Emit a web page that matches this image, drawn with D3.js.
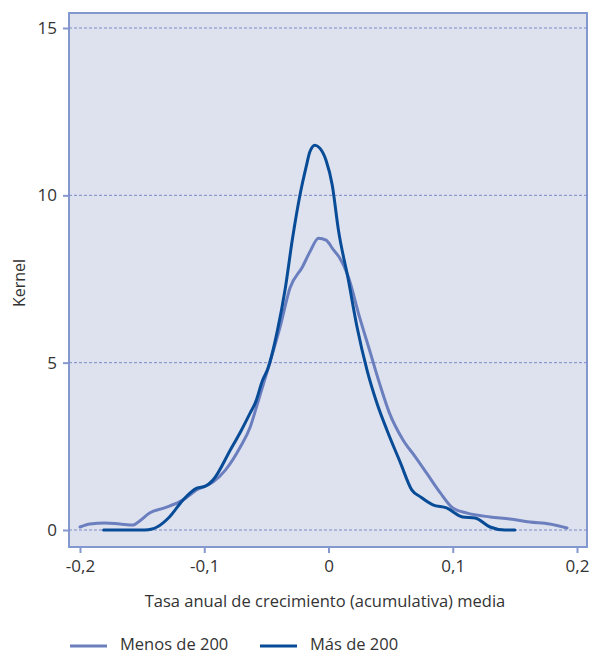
<!DOCTYPE html>
<html>
<head>
<meta charset="utf-8">
<script src="https://cdn.jsdelivr.net/npm/d3@7"></script>
<style>
  body { margin: 0; background: #fff; }
  text { font-family: "Open Sans", "Noto Sans", sans-serif; fill: #333; }
</style>
</head>
<body>
<svg id="chart" width="592" height="656"></svg>
<script>
// kernel density, firms with fewer than 200 employees
var menosX = [-0.2, -0.192, -0.180, -0.168, -0.157, -0.152, -0.144, -0.132, -0.117, -0.106, -0.093, -0.083, -0.071, -0.063, -0.058, -0.049, -0.039, -0.031, -0.021, -0.015, -0.008, -0.002, 0.004, 0.009, 0.016, 0.025, 0.033, 0.041, 0.049, 0.060, 0.070, 0.079, 0.090, 0.100, 0.111, 0.130, 0.146, 0.162, 0.178, 0.192];
var menosY = [0.09, 0.18, 0.21, 0.18, 0.15, 0.27, 0.51, 0.66, 0.90, 1.20, 1.43, 1.79, 2.48, 3.08, 3.67, 4.78, 6.06, 7.23, 7.86, 8.31, 8.72, 8.66, 8.37, 8.13, 7.56, 6.36, 5.38, 4.39, 3.50, 2.69, 2.18, 1.70, 1.11, 0.66, 0.51, 0.39, 0.33, 0.24, 0.18, 0.06];

// firms with more than 200 employees
var masX = [-0.181, -0.148, -0.142, -0.138, -0.128, -0.117, -0.106, -0.099, -0.093, -0.079, -0.070, -0.063, -0.059, -0.053, -0.049, -0.041, -0.035, -0.029, -0.023, -0.018, -0.015, -0.011, -0.007, -0.002, 0.003, 0.008, 0.016, 0.023, 0.031, 0.039, 0.047, 0.058, 0.067, 0.074, 0.084, 0.095, 0.108, 0.118, 0.130, 0.142, 0.150];
var masY = [0, 0, 0.03, 0.09, 0.39, 0.90, 1.25, 1.31, 1.49, 2.39, 2.99, 3.50, 3.79, 4.48, 4.80, 5.98, 7.17, 8.70, 10.0, 10.85, 11.30, 11.50, 11.41, 11.05, 10.31, 8.96, 7.47, 6.06, 4.78, 3.79, 2.99, 2.00, 1.20, 0.99, 0.75, 0.66, 0.39, 0.36, 0.09, 0, 0];

var xTicks = [-0.2, -0.1, 0, 0.1, 0.2];
var yTicks = [0, 5, 10, 15];
var seriesNames = ["Menos de 200", "Más de 200"];

var svg = d3.select("#chart"),
	box = {left: 69, top: 13, right: 587, bottom: 547},
	lightBlue = "#6b7fbf",
	darkBlue = "#084b97",
	frame = "#8597cf";

var x = d3.scaleLinear().domain([-0.2, 0.2]).range([80, 577]);
var y = d3.scaleLinear().domain([0, 15]).range([530, 28]);

// decimal comma and plain hyphen, as in the original
var fmt = function(d) { return String(d).replace(".", ","); };

// plot background
svg.append("rect")
	.attr("x", box.left).attr("y", box.top)
	.attr("width", box.right - box.left).attr("height", box.bottom - box.top)
	.attr("fill", "#dee2ef")
	.attr("stroke", frame).attr("stroke-width", 2);

// gridlines
svg.selectAll(".grid").data(yTicks).enter().append("line")
	.attr("x1", box.left).attr("x2", box.right)
	.attr("y1", d => y(d)).attr("y2", d => y(d))
	.attr("stroke", "#7a8bc6").attr("stroke-width", 1)
	.attr("stroke-dasharray", "3,2");

// y axis
var yAxis = svg.append("g")
	.attr("transform", "translate(" + box.left + ",0)")
	.call(d3.axisLeft(y).tickValues(yTicks).tickSize(6).tickPadding(6).tickFormat(fmt));
yAxis.select(".domain").remove();
yAxis.selectAll(".tick line").attr("stroke", frame).attr("stroke-width", 2);
yAxis.selectAll(".tick text").attr("font-size", 17).attr("fill", "#333")
	.attr("font-family", "'Open Sans', sans-serif");

// x axis
var xAxis = svg.append("g")
	.attr("transform", "translate(0," + box.bottom + ")")
	.call(d3.axisBottom(x).tickValues(xTicks).tickSize(6).tickPadding(7).tickFormat(fmt));
xAxis.select(".domain").remove();
xAxis.selectAll(".tick line").attr("stroke", frame).attr("stroke-width", 2);
xAxis.selectAll(".tick text").attr("font-size", 17).attr("fill", "#333")
	.attr("font-family", "'Open Sans', sans-serif");

// axis titles
svg.append("text")
	.attr("x", 325).attr("y", 607)
	.attr("text-anchor", "middle").attr("font-size", 16.5)
	.text("Tasa anual de crecimiento (acumulativa) media");
svg.append("text")
	.attr("transform", "translate(25,283) rotate(-90)")
	.attr("text-anchor", "middle").attr("font-size", 16)
	.text("Kernel");

// curves
var line = d3.line()
	.x(d => x(d[0])).y(d => y(d[1]))
	.curve(d3.curveMonotoneX);

var menos = d3.zip(menosX, menosY),
	mas = d3.zip(masX, masY);

svg.append("path").datum(menos)
	.attr("d", line).attr("fill", "none")
	.attr("stroke", lightBlue).attr("stroke-width", 3)
	.attr("stroke-linejoin", "round").attr("stroke-linecap", "round");
svg.append("path").datum(mas)
	.attr("d", line).attr("fill", "none")
	.attr("stroke", darkBlue).attr("stroke-width", 3)
	.attr("stroke-linejoin", "round").attr("stroke-linecap", "round");

// legend
var legend = [
	{name: seriesNames[0], color: lightBlue, x0: 70},
	{name: seriesNames[1], color: darkBlue, x0: 260}
];
legend.forEach(function(l) {
	svg.append("line")
		.attr("x1", l.x0).attr("x2", l.x0 + 37)
		.attr("y1", 646).attr("y2", 646)
		.attr("stroke", l.color).attr("stroke-width", 3);
	svg.append("text")
		.attr("x", l.x0 + 50).attr("y", 650)
		.attr("font-size", 16.5)
		.text(l.name);
});
</script>
</body>
</html>
